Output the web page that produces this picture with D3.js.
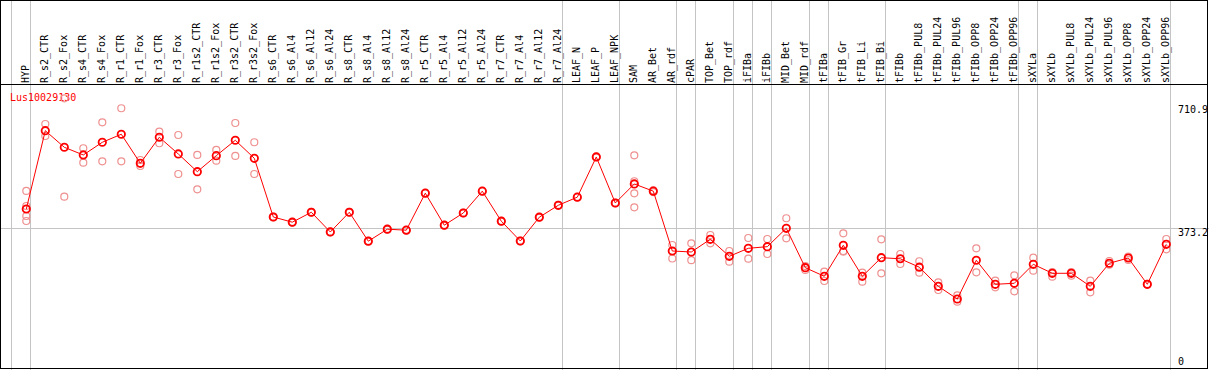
<!DOCTYPE html>
<html>
<head>
<meta charset="utf-8">
<script src="https://cdn.jsdelivr.net/npm/d3@7"></script>
<style>
  html, body { margin: 0; padding: 0; background: #fff; }
  svg { display: block; }
</style>
</head>
<body>
<div id="chart"></div>
<script>
// expression profile

const geneId = 'Lus10029130';

const samples = [
    'HYP', 'R_s2_CTR', 'R_s2_Fox', 'R_s4_CTR', 'R_s4_Fox', 'R_r1_CTR', 'R_r1_Fox',
    'R_r3_CTR', 'R_r3_Fox', 'R_r1s2_CTR', 'R_r1s2_Fox', 'R_r3s2_CTR', 'R_r3s2_Fox',
    'R_s6_CTR', 'R_s6_Al4', 'R_s6_Al12', 'R_s6_Al24', 'R_s8_CTR', 'R_s8_Al4',
    'R_s8_Al12', 'R_s8_Al24', 'R_r5_CTR', 'R_r5_Al4', 'R_r5_Al12', 'R_r5_Al24',
    'R_r7_CTR', 'R_r7_Al4', 'R_r7_Al12', 'R_r7_Al24', 'LEAF_N', 'LEAF_P', 'LEAF_NPK',
    'SAM', 'AR_Bet', 'AR_rdf', 'cPAR', 'TOP_Bet', 'TOP_rdf', 'iFIBa', 'iFIBb',
    'MID_Bet', 'MID_rdf', 'tFIBa', 'tFIB_Gr', 'tFIB_Li', 'tFIB_Bi', 'tFIBb',
    'tFIBb_PUL8', 'tFIBb_PUL24', 'tFIBb_PUL96', 'tFIBb_OPP8', 'tFIBb_OPP24', 'tFIBb_OPP96',
    'sXYLa', 'sXYLb', 'sXYLb_PUL8', 'sXYLb_PUL24', 'sXYLb_PUL96', 'sXYLb_OPP8',
    'sXYLb_OPP24', 'sXYLb_OPP96'
];

// mean values (red line)
const means = [
    423.4, 626.8, 583.7, 563.7, 596.7, 617.5, 542.1, 609.7, 566.3, 520.3, 561.9, 601.9, 555.1,
    402.6, 389.1, 414.9, 363.7, 414.9, 339.8, 370.9, 368.4, 464.5, 381.3, 413.0, 469.7,
    391.7, 340.3, 402.1, 433.0, 454.1, 558.5, 439.0,
    488.4, 469.7, 314.3, 311.7, 344.7, 300.5, 321.3, 325.5, 373.3, 270.9,
    248.6, 329.1, 248.6, 296.9, 294.1, 272.2, 222.6, 189.6, 290.2, 227.8, 230.4,
    279.8, 256.4, 256.4, 222.6, 282.4, 296.1, 227.8, 331.7
];

// replicate values (pale circles), one list per sample
const replicates = [
    [470.2, 431.2, 405.2, 392.2], [644.2, 613.0], [710.9, 455.4], [581.1, 543.7],
    [648.6, 547.3], [685.0, 547.3], [550.7, 535.1], [624.2, 594.1], [615.6, 514.3],
    [563.7, 474.6], [576.7, 548.9], [646.8, 561.1], [596.7, 514.3],
    [403.5, 401.7], [390.0, 388.2], [415.8, 414.0], [364.6, 362.8], [415.8, 414.0],
    [340.7, 338.9], [371.8, 370.0], [369.3, 367.5], [465.4, 463.6], [382.2, 380.4],
    [413.9, 412.1], [470.6, 468.8], [392.6, 390.8], [341.2, 339.4], [403.0, 401.2],
    [433.9, 432.1], [455.0, 453.2], [559.4, 557.6], [439.9, 438.1],
    [562.9, 495.4, 464.2, 427.8], [472.0, 467.4], [329.9, 294.8], [334.3, 290.4],
    [355.9, 334.3], [314.3, 286.5], [348.1, 294.3], [345.5, 306.5], [399.3, 347.3],
    [275.0, 265.0], [260.5, 236.4], [360.3, 314.3, 312.5], [258.0, 234.6],
    [344.7, 256.4], [306.5, 280.5], [287.6, 258.0], [233.0, 213.0], [199.2, 182.6],
    [321.3, 259.0], [237.2, 220.0], [251.2, 209.6], [296.9, 263.1], [259.8, 247.6],
    [259.8, 250.1], [237.2, 207.0], [288.3, 278.7], [300.0, 290.9], [228.7, 226.9],
    [345.5, 318.7]
];

// samples that start a new group (grey separators)
const groupStarts = ['HYP', 'R_s2_CTR', 'LEAF_N', 'SAM', 'cPAR', 'TOP_Bet', 'iFIBa',
    'iFIBb', 'MID_Bet', 'tFIBa', 'tFIB_Gr', 'tFIBb', 'sXYLa', 'sXYLb'];

const yTicks = [710.9, 373.2, 0];
const refLine = 373.2;

function drawChart() {
    const width = 1209;
    const height = 370;
    const headerBottom = 84.5;
    const font = '"DejaVu Sans Mono", monospace';

    const svg = d3.select('#chart')
        .append('svg')
        .attr('width', width)
        .attr('height', height)
        .style('font-family', font);

    svg.append('rect')
        .attr('width', width)
        .attr('height', height)
        .attr('fill', '#fff');

    // one 19px column per sample
    const x = d3.scaleBand()
        .domain(samples)
        .range([11, 1170])
        .paddingInner(0)
        .paddingOuter(0);
    const px = s => x(s) + 15.3;

    const y = d3.scaleLinear()
        .domain([0, 710.9])
        .range([372, 98.3]);

    // grey separators
    const sepX = groupStarts.map(s => x(s)).concat([x.range()[1]]);
    svg.append('g')
        .selectAll('line')
        .data(sepX)
        .join('line')
        .attr('x1', d => Math.round(d) + 0.5)
        .attr('x2', d => Math.round(d) + 0.5)
        .attr('y1', 0)
        .attr('y2', height)
        .attr('stroke', '#c4c4c4')
        .attr('stroke-width', 1);

    svg.append('line')
        .attr('x1', 0)
        .attr('x2', width)
        .attr('y1', Math.round(y(refLine)) + 0.5)
        .attr('y2', Math.round(y(refLine)) + 0.5)
        .attr('stroke', '#c4c4c4')
        .attr('stroke-width', 1);

    // frame + header line
    svg.append('rect')
        .attr('x', 0.5)
        .attr('y', 0.5)
        .attr('width', width - 2)
        .attr('height', height - 2)
        .attr('fill', 'none')
        .attr('stroke', '#000')
        .attr('stroke-width', 1);
    svg.append('line')
        .attr('x1', 0)
        .attr('x2', width - 1)
        .attr('y1', headerBottom)
        .attr('y2', headerBottom)
        .attr('stroke', '#000')
        .attr('stroke-width', 1);

    // sample labels, rotated
    svg.append('g')
        .selectAll('text')
        .data(samples)
        .join('text')
        .attr('transform', d => `translate(${px(d) + 2.5},83) rotate(-90)`)
        .attr('font-size', '10px')
        .attr('fill', '#000')
        .text(d => d);

    // y labels on the right
    svg.append('g')
        .selectAll('text')
        .data(yTicks)
        .join('text')
        .attr('x', 1178)
        .attr('y', d => {
            if (d === 0) return 365;
            if (d === yTicks[0]) return 112.5;
            return y(d) + 8;
        })
        .attr('font-size', '10px')
        .attr('fill', '#000')
        .text(d => d);

    // gene id
    svg.append('text')
        .attr('x', 10)
        .attr('y', 101)
        .attr('font-size', '10px')
        .attr('fill', '#f00')
        .text(geneId);

    // replicate circles
    const reps = [];
    samples.forEach((s, i) => replicates[i].forEach(v => reps.push({ s, v })));
    svg.append('g')
        .selectAll('circle')
        .data(reps)
        .join('circle')
        .attr('cx', d => px(d.s))
        .attr('cy', d => y(d.v))
        .attr('r', 3.5)
        .attr('fill', 'none')
        .attr('stroke', '#ef9090')
        .attr('stroke-width', 1.2);

    // mean line
    const line = d3.line()
        .x((d, i) => px(samples[i]))
        .y(d => y(d));
    svg.append('path')
        .datum(means)
        .attr('d', line)
        .attr('fill', 'none')
        .attr('stroke', '#f00')
        .attr('stroke-width', 1);

    svg.append('g')
        .selectAll('circle')
        .data(means)
        .join('circle')
        .attr('cx', (d, i) => px(samples[i]))
        .attr('cy', d => y(d))
        .attr('r', 3.7)
        .attr('fill', 'none')
        .attr('stroke', '#f00')
        .attr('stroke-width', 1.8);
}

drawChart();
</script>
</body>
</html>
